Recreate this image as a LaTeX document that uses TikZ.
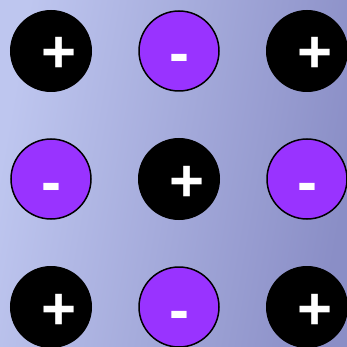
\documentclass[tikz,border=0pt]{standalone}
\usepackage{fontspec}
\setmainfont{Liberation Sans}
\definecolor{bgl}{HTML}{BEC6EF}
\definecolor{bgr}{HTML}{8A8EC6}
\definecolor{neg}{HTML}{9933FF}
\tikzset{
  poscirc/.style={circle, fill=black, draw=black, line width=1pt, minimum size=81pt, inner sep=0pt},
  negcirc/.style={circle, fill=neg, draw=black, line width=1.5pt, minimum size=80pt, inner sep=0pt},
  sign/.style={anchor=base, text=white, inner sep=0pt, font=\bfseries\fontsize{60}{60}\selectfont}
}
\begin{document}
\begin{tikzpicture}[x=1pt,y=-1pt]
\shade[left color=bgl, right color=bgr, shading angle=80] (0,0) rectangle (347,347);
\useasboundingbox (0,0) rectangle (347,347);
\node[poscirc] (c11) at (51,51) {};
\node[negcirc] (c12) at (179,51) {};
\node[poscirc] (c13) at (307,51) {};
\node[negcirc] (c21) at (51,179) {};
\node[poscirc] (c22) at (179,179) {};
\node[negcirc] (c23) at (307,179) {};
\node[poscirc] (c31) at (51,307) {};
\node[negcirc] (c32) at (179,307) {};
\node[poscirc] (c33) at (307,307) {};
\node[sign] (s11) at (59.5,73) {+};
\node[sign] (s12) at (179,74) {-};
\node[sign] (s13) at (315.5,73) {+};
\node[sign] (s21) at (51,202) {-};
\node[sign] (s22) at (187.5,201) {+};
\node[sign] (s23) at (307,202) {-};
\node[sign] (s31) at (59.5,329) {+};
\node[sign] (s32) at (179,330) {-};
\node[sign] (s33) at (315.5,329) {+};
\end{tikzpicture}
\end{document}
